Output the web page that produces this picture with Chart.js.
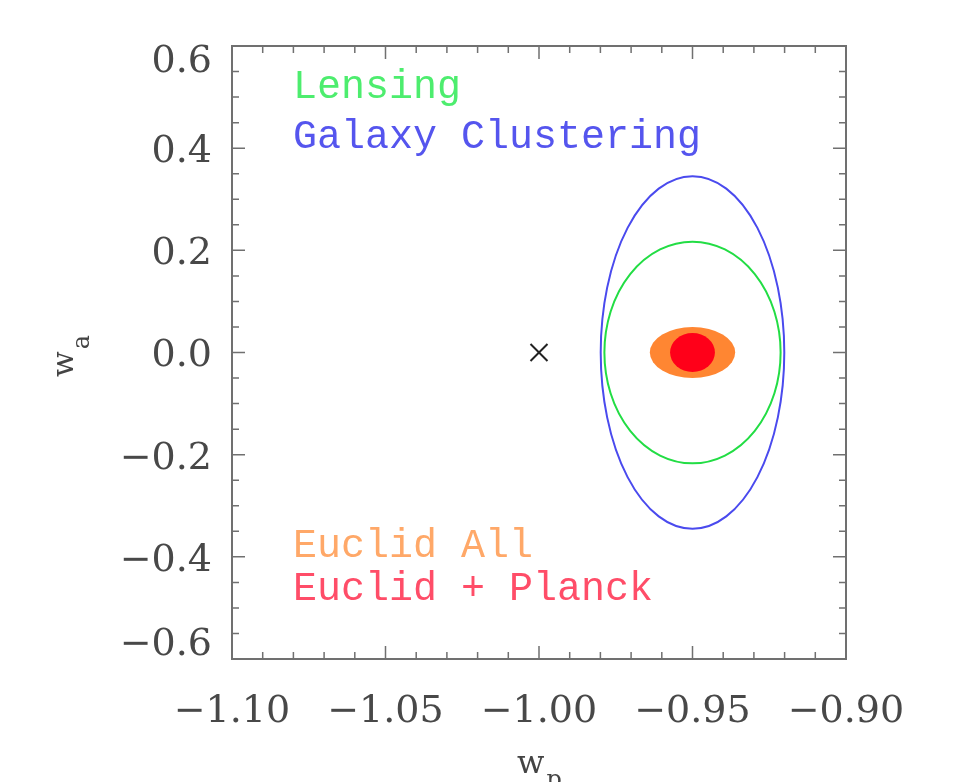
<!DOCTYPE html>
<html>
<head>
<meta charset="utf-8">
<script src="https://cdn.jsdelivr.net/npm/chart.js@4.4.1/dist/chart.umd.min.js"></script>
<style>
  html, body { margin: 0; padding: 0; background: #fff; }
</style>
</head>
<body>
<canvas id="chart" width="980" height="782"></canvas>
<script>
// axis ticks
const xTickValues = [-1.10, -1.05, -1.00, -0.95, -0.90];
const xTickLabels = ['\u22121.10', '\u22121.05', '\u22121.00', '\u22120.95', '\u22120.90'];
const yTickValues = [-0.6, -0.4, -0.2, 0.0, 0.2, 0.4, 0.6];
const yTickLabels = ['\u22120.6', '\u22120.4', '\u22120.2', '0.0', '0.2', '0.4', '0.6'];

// forecast contours (centre and half-widths)
const contourNames = ['Galaxy Clustering', 'Lensing', 'Euclid All', 'Euclid + Planck'];
const contourW0 = [-0.95, -0.95, -0.95, -0.95];
const contourWa = [0.0, 0.0, 0.0, 0.0];
const contourHalfW0 = [0.0299, 0.0287, 0.0139, 0.0073];
const contourHalfWa = [0.345, 0.217, 0.050, 0.038];

// fiducial model
const fiducialW0 = [-1.00];
const fiducialWa = [0.00];

const contourStyle = [
    { stroke: '#4a4aee', fill: null },
    { stroke: '#22dd44', fill: null },
    { stroke: null, fill: '#ff8632' },
    { stroke: null, fill: '#ff0019' }
];

const datasets = contourNames.map((name, i) => ({
    label: name,
    data: [{ x: contourW0[i], y: contourWa[i] }],
    halfX: contourHalfW0[i],
    halfY: contourHalfWa[i],
    ellipse: contourStyle[i],
    pointRadius: 0,
    pointHoverRadius: 0
}));

datasets.push({
    label: 'fiducial',
    data: fiducialW0.map((x, i) => ({ x: x, y: fiducialWa[i] })),
    pointStyle: 'crossRot',
    pointRadius: 12,
    borderColor: '#222',
    borderWidth: 2
});

const ellipsePlugin = {
    id: 'ellipses',
    beforeDatasetsDraw(chart) {
        const ctx = chart.ctx;
        const xs = chart.scales.x, ys = chart.scales.y;
        ctx.save();
        chart.data.datasets.forEach(ds => {
            if (!ds.ellipse) return;
            const p = ds.data[0];
            const cx = xs.getPixelForValue(p.x);
            const cy = ys.getPixelForValue(p.y);
            const rx = Math.abs(xs.getPixelForValue(p.x + ds.halfX) - cx);
            const ry = Math.abs(ys.getPixelForValue(p.y + ds.halfY) - cy);
            ctx.beginPath();
            ctx.ellipse(cx, cy, rx, ry, 0, 0, Math.PI * 2);
            if (ds.ellipse.fill) {
                ctx.fillStyle = ds.ellipse.fill;
                ctx.fill();
            }
            if (ds.ellipse.stroke) {
                ctx.strokeStyle = ds.ellipse.stroke;
                ctx.lineWidth = 2;
                ctx.stroke();
            }
        });
        ctx.restore();
    }
};

// IDL puts the end labels of the y axis inside the frame, the rest sit a bit low
const yLabelShift = {
    id: 'yLabelShift',
    beforeDraw(chart) {
        const ys = chart.scales.y;
        const items = ys.getLabelItems(chart.chartArea);
        if (items._shifted) return;
        items.forEach((it, i) => {
            let dy = 4;
            if (i === 0) dy = -14;
            if (i === items.length - 1) dy = 16;
            it.options.translation[1] += dy;
        });
        items._shifted = true;
    }
};

// frame with inward major and minor ticks
const framePlugin = {
    id: 'frame',
    afterDraw(chart) {
        const ctx = chart.ctx;
        const a = chart.chartArea;
        const xs = chart.scales.x, ys = chart.scales.y;
        ctx.save();
        ctx.strokeStyle = '#707070';
        ctx.lineWidth = 2;
        ctx.strokeRect(a.left, a.top, a.right - a.left, a.bottom - a.top);
        ctx.lineWidth = 1.5;
        ctx.beginPath();
        for (let k = 1; k < 20; k++) {
            const px = xs.getPixelForValue(-1.10 + k * 0.01);
            const len = k % 5 === 0 ? 13 : 7;
            ctx.moveTo(px, a.bottom); ctx.lineTo(px, a.bottom - len);
            ctx.moveTo(px, a.top); ctx.lineTo(px, a.top + len);
        }
        for (let k = 1; k < 24; k++) {
            const py = ys.getPixelForValue(-0.6 + k * 0.05);
            const len = k % 4 === 0 ? 13 : 7;
            ctx.moveTo(a.left, py); ctx.lineTo(a.left + len, py);
            ctx.moveTo(a.right, py); ctx.lineTo(a.right - len, py);
        }
        ctx.stroke();
        ctx.restore();
    }
};

const textPlugin = {
    id: 'texts',
    afterDraw(chart) {
        const ctx = chart.ctx;
        const a = chart.chartArea;
        ctx.save();
        ctx.textAlign = 'left';
        ctx.textBaseline = 'alphabetic';
        ctx.font = '40px "Liberation Mono"';
        const notes = [
            ['Lensing', '#4ded6e', 52],
            ['Galaxy Clustering', '#5555ee', 102],
            ['Euclid All', '#ffa868', 511],
            ['Euclid + Planck', '#ff4d68', 554]
        ];
        notes.forEach(n => {
            ctx.fillStyle = n[1];
            ctx.fillText(n[0], a.left + 61, a.top + n[2]);
        });

        // axis titles
        ctx.fillStyle = '#444';
        ctx.font = '32px "DejaVu Serif"';
        ctx.fillText('w', 517, 773);
        let ww = ctx.measureText('w').width;
        ctx.font = '24px "DejaVu Serif"';
        ctx.fillText('p', 517 + ww + 2, 787);

        ctx.translate(73, 377);
        ctx.rotate(-Math.PI / 2);
        ctx.font = '30px "DejaVu Serif"';
        ctx.fillText('w', 0, 0);
        ww = ctx.measureText('w').width;
        ctx.font = '24px "DejaVu Serif"';
        ctx.fillText('a', ww + 2, 16);
        ctx.restore();
    }
};

const tickFont = { family: 'DejaVu Serif', size: 38 };

new Chart(document.getElementById('chart'), {
    type: 'scatter',
    data: { datasets: datasets },
    options: {
        responsive: false,
        animation: false,
        devicePixelRatio: 1,
        layout: { padding: { top: 46, right: 134, bottom: 0, left: 0 } },
        plugins: {
            legend: { display: false },
            tooltip: { enabled: false }
        },
        scales: {
            x: {
                type: 'linear',
                min: -1.10,
                max: -0.90,
                afterBuildTicks: s => { s.ticks = xTickValues.map(v => ({ value: v })); },
                afterFit: s => { s.height = 123; },
                ticks: {
                    callback: (v, i) => xTickLabels[i],
                    font: tickFont,
                    color: '#484848',
                    padding: 22,
                    maxRotation: 0,
                    autoSkip: false
                },
                grid: { display: false },
                border: { display: false }
            },
            y: {
                type: 'linear',
                min: -0.6,
                max: 0.6,
                afterBuildTicks: s => { s.ticks = yTickValues.map(v => ({ value: v })); },
                afterFit: s => { s.width = 232; },
                ticks: {
                    callback: (v, i) => yTickLabels[i],
                    font: tickFont,
                    color: '#484848',
                    padding: 12,
                    autoSkip: false
                },
                grid: { display: false },
                border: { display: false }
            }
        }
    },
    plugins: [yLabelShift, ellipsePlugin, framePlugin, textPlugin]
});
</script>
</body>
</html>
